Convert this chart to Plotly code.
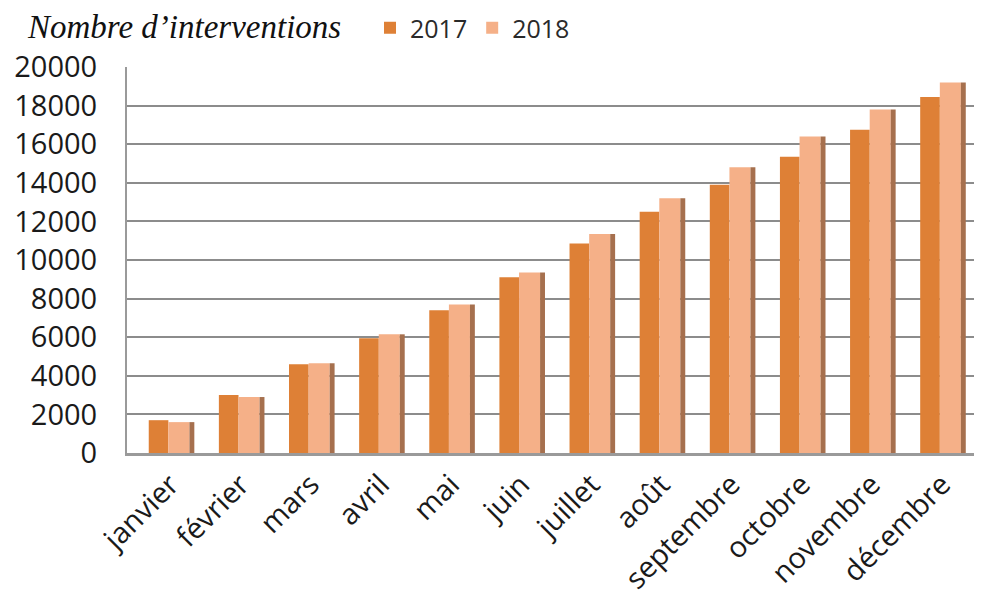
import plotly.graph_objects as go

months = ["janvier", "février", "mars", "avril", "mai", "juin", "juillet",
          "août", "septembre", "octobre", "novembre", "décembre"]
v2017 = [1700, 3000, 4600, 5950, 7400, 9100, 10850, 12500, 13900, 15350, 16750, 18450]
v2018 = [1600, 2900, 4650, 6150, 7700, 9350, 11350, 13200, 14800, 16400, 17800, 19200]
y_ticks = [0, 2000, 4000, 6000, 8000, 10000, 12000, 14000, 16000, 18000, 20000]
y_labels = [str(v) for v in y_ticks]

c2017 = "#DE8036"
c2018 = "#F5B088"
cside = "#A6704E"

fig = go.Figure()
fig.add_trace(go.Bar(x=months, y=v2017, name="2017", marker_color=c2017,
                     marker_line_width=0, offset=-0.31, width=0.28))
fig.add_trace(go.Bar(x=months, y=v2018, name="2018", marker_color=c2018,
                     marker_line_width=0, offset=-0.03, width=0.30))
fig.add_trace(go.Bar(x=months, y=v2018, name="side", marker_color=cside,
                     marker_line_width=0, offset=0.27, width=0.07,
                     showlegend=False, hoverinfo="skip"))

fig.update_layout(
    width=982, height=602,
    margin=dict(l=119, r=13, t=59, b=157, autoexpand=False),
    paper_bgcolor="white", plot_bgcolor="white",
    barmode="overlay",
    title=dict(text="Nombre d’interventions", x=20 / 982, xanchor="left",
               xref="container", y=1 - 18 / 602, yref="container",
               yanchor="middle",
               font=dict(family="Liberation Serif", size=33, color="#111111",
                         style="italic")),
    legend=dict(orientation="h", xref="container", yref="container",
                x=362 / 982, xanchor="left", y=1 - 20 / 602, yanchor="middle",
                font=dict(family="Open Sans", size=25, color="#2a2a2a"),
                itemwidth=30, tracegroupgap=0, bgcolor="rgba(0,0,0,0)"),
    showlegend=True,
)
fig.update_xaxes(range=[-0.62, 11.5], tickangle=-45,
                 tickfont=dict(family="Open Sans", size=29, color="#1a1a1a"),
                 showline=True, linecolor="#9a9a9a", linewidth=3,
                 showgrid=False, ticks="", ticklabelstandoff=0)
fig.update_yaxes(range=[0, 20000], tickvals=y_ticks, ticktext=y_labels,
                 tickfont=dict(family="Open Sans", size=29, color="#1a1a1a"),
                 showgrid=True, gridcolor="#8c8c8c", gridwidth=2,
                 showline=True, linecolor="#9a9a9a", linewidth=2,
                 zeroline=False, ticks="", ticklabelstandoff=22)

fig.write_html("out.html")
